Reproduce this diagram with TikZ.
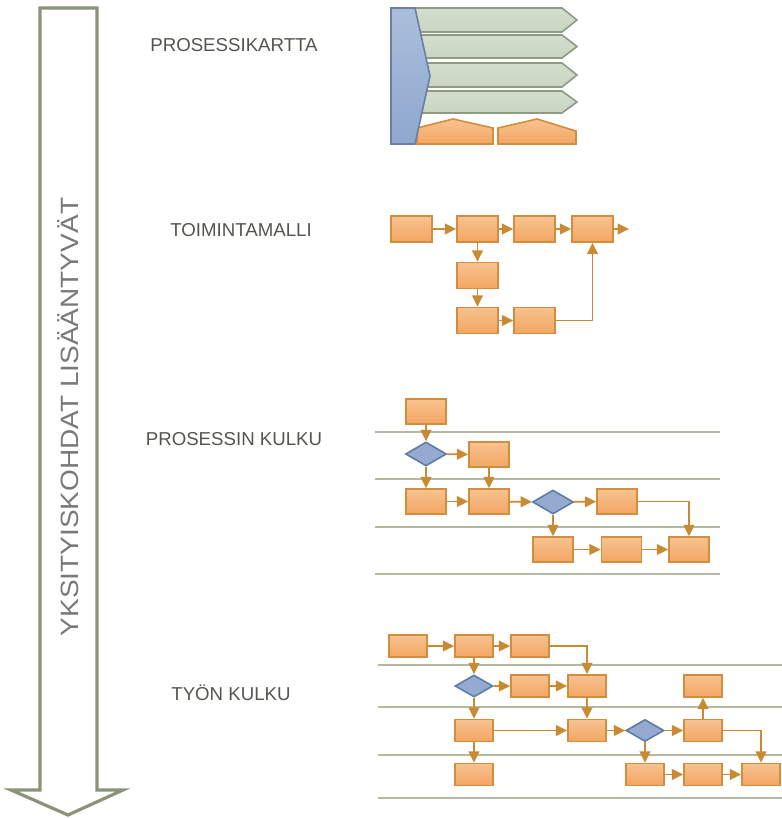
\documentclass[tikz,border=0pt]{standalone}
\usepackage{fontspec}
\setmainfont{Liberation Sans}
\usetikzlibrary{arrows.meta,shapes.geometric}

\definecolor{boxtop}{HTML}{F8C28F}
\definecolor{boxbot}{HTML}{F2A662}
\definecolor{boxline}{HTML}{D38D3E}
\definecolor{flowcol}{HTML}{C98A34}
\definecolor{decfill}{HTML}{94ABCF}
\definecolor{decline}{HTML}{5F7CA8}
\definecolor{lanecol}{HTML}{B2BAA6}
\definecolor{barfill}{HTML}{C9D5C1}
\definecolor{barline}{HTML}{8D9B83}
\definecolor{mapfill}{HTML}{8FA8CF}
\definecolor{mapline}{HTML}{6A7FA3}
\definecolor{bigline}{HTML}{8A9478}
\definecolor{labelcol}{HTML}{55554F}

\begin{document}
\begin{tikzpicture}[x=0.75pt,y=-0.75pt,
  >={Triangle[length=8.5pt,width=8pt]},
  box/.style={draw=boxline,line width=1.2pt,top color=boxtop,bottom color=boxbot,
    minimum width=30pt,minimum height=18.75pt,inner sep=0pt},
  smallbox/.style={box,minimum width=28.5pt,minimum height=16.5pt},
  decision/.style={diamond,draw=decline,line width=1.2pt,fill=decfill,inner sep=0pt,
    minimum width=30.75pt,minimum height=18pt},
  smalldecision/.style={decision,minimum width=28.5pt,minimum height=16.5pt},
  flow/.style={->,draw=flowcol,line width=1.3pt},
  lane/.style={draw=lanecol,line width=1.5pt},
  level/.style={text=labelcol,font=\fontsize{14}{16}\selectfont}]
  \useasboundingbox (0,0) rectangle (782,818);

  % big arrow on the left
  \draw[bigline,line width=2.4pt,fill=white,line join=miter]
    (40,8) -- (97,8) -- (97,790) -- (123,790) -- (68,815) -- (11,790) -- (40,790) -- cycle;
  \node (trend) [rotate=90,text=gray!95!black] at (68,417)
    {\fontsize{18.75}{20}\selectfont\scalebox{1.12}[1]{YKSITYISKOHDAT LISÄÄNTYVÄT}};

  % level labels
  \node (lvl1) [level] at (234,45) {PROSESSIKARTTA};
  \node (lvl2) [level] at (241,230) {TOIMINTAMALLI};
  \node (lvl3) [level] at (234,439) {PROSESSIN KULKU};
  \node (lvl4) [level] at (231,693) {TYÖN KULKU};

  % process map
  \foreach \ya/\yb in {8/32,35/58,63/87,91/113}
    \draw[barline,line width=1.2pt,top color=barfill!80!white,bottom color=barfill]
      (405,\ya) -- (562,\ya) -- (577,{(\ya+\yb)/2}) -- (562,\yb) -- (405,\yb) -- cycle;
  \draw[boxline,line width=1.2pt,top color=boxtop,bottom color=boxbot]
    (417,144) -- (417,128) -- (453,119) -- (493,128) -- (493,144) -- cycle;
  \draw[boxline,line width=1.2pt,top color=boxtop,bottom color=boxbot]
    (498,144) -- (498,128) -- (537,119) -- (576,131) -- (576,144) -- cycle;
  \draw[mapline,line width=1.2pt,top color=mapfill!75!white,bottom color=mapfill]
    (391,8) -- (415,8) -- (430,76) -- (415,144) -- (391,144) -- cycle;

  % operating model
  \node (t1) [box,minimum width=30.75pt,minimum height=19.5pt] at (411.5,229) {};
  \node (t2) [box,minimum width=30.75pt,minimum height=19.5pt] at (477.5,229) {};
  \node (t3) [box,minimum width=30.75pt,minimum height=19.5pt] at (534.5,229) {};
  \node (t4) [box,minimum width=30.75pt,minimum height=19.5pt] at (592.5,229) {};
  \node (t5) [box,minimum width=30.75pt,minimum height=19.5pt] at (477.5,275.5) {};
  \node (t6) [box,minimum width=30.75pt,minimum height=19.5pt] at (477.5,320.5) {};
  \node (t7) [box,minimum width=30.75pt,minimum height=19.5pt] at (534.5,320.5) {};
  \coordinate (tout) at (629,229);
  \draw[flow] (t1) -- (t2);
  \draw[flow] (t2) -- (t3);
  \draw[flow] (t3) -- (t4);
  \draw[flow] (t4) -- (tout);
  \draw[flow] (t2) -- (t5);
  \draw[flow] (t5) -- (t6);
  \draw[flow] (t6) -- (t7);
  \draw[flow] (t7) -| (t4);

  % process flow
  \foreach \y in {432,479,527,574}
    \draw[lane] (375,\y) -- (720,\y);
  \node (p1) [box] at (426,411.5) {};
  \node (d1) [decision] at (426,454) {};
  \node (p2) [box] at (489,454.5) {};
  \node (p3) [box] at (426,501.5) {};
  \node (p4) [box] at (489,501.5) {};
  \node (d2) [decision] at (553,502) {};
  \node (p5) [box] at (617,501.5) {};
  \node (p6) [box] at (553,549.5) {};
  \node (p7) [box] at (621.5,549.5) {};
  \node (p8) [box] at (689,549.5) {};
  \draw[flow] (p1) -- (d1);
  \draw[flow] (d1) -- (p2);
  \draw[flow] (d1) -- (p3);
  \draw[flow] (p2) -- (p4);
  \draw[flow] (p3) -- (p4);
  \draw[flow] (p4) -- (d2);
  \draw[flow] (d2) -- (p5);
  \draw[flow] (d2) -- (p6);
  \draw[flow] (p6) -- (p7);
  \draw[flow] (p7) -- (p8);
  \draw[flow] (p5) -| (p8);

  % work flow
  \foreach \y in {665,707,755,798}
    \draw[lane] (378,\y) -- (782,\y);
  \node (w1) [smallbox] at (408,646) {};
  \node (w2) [smallbox] at (474,646) {};
  \node (w3) [smallbox] at (530,646) {};
  \node (d3) [smalldecision] at (474,686) {};
  \node (w4) [smallbox] at (530,686) {};
  \node (w5) [smallbox] at (587,686) {};
  \node (w6) [smallbox] at (703,686) {};
  \node (w7) [smallbox] at (474,730.5) {};
  \node (w8) [smallbox] at (587,730.5) {};
  \node (d4) [smalldecision] at (645,730.5) {};
  \node (w9) [smallbox] at (703,730.5) {};
  \node (w10) [smallbox] at (474,774.5) {};
  \node (w11) [smallbox] at (645,774.5) {};
  \node (w12) [smallbox] at (703,774.5) {};
  \node (w13) [smallbox] at (761,774.5) {};
  \draw[flow] (w1) -- (w2);
  \draw[flow] (w2) -- (w3);
  \draw[flow] (w3) -| (w5);
  \draw[flow] (w2) -- (d3);
  \draw[flow] (d3) -- (w4);
  \draw[flow] (w4) -- (w5);
  \draw[flow] (w5) -- (w8);
  \draw[flow] (d3) -- (w7);
  \draw[flow] (w7) -- (w8);
  \draw[flow] (w7) -- (w10);
  \draw[flow] (w8) -- (d4);
  \draw[flow] (d4) -- (w9);
  \draw[flow] (w9) -- (w6);
  \draw[flow] (d4) -- (w11);
  \draw[flow] (w11) -- (w12);
  \draw[flow] (w12) -- (w13);
  \draw[flow] (w9) -| (w13);
\end{tikzpicture}
\end{document}
